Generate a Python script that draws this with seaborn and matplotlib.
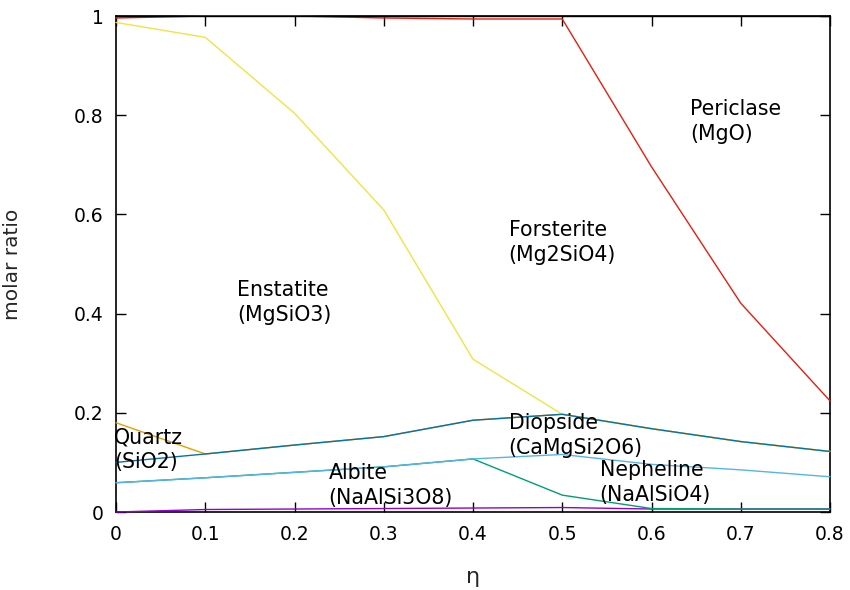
import matplotlib
matplotlib.use("Agg")
import matplotlib.pyplot as plt
import seaborn as sns
import pandas as pd

# composition parameter
eta = [0.0, 0.1, 0.2, 0.3, 0.4, 0.5, 0.6, 0.7, 0.8]

# cumulative molar ratios (each curve is the running sum of the phases below it)
trace_cum     = [0.000, 0.005, 0.006, 0.007, 0.008, 0.009, 0.006, 0.006, 0.006]
albite_cum    = [0.059, 0.069, 0.080, 0.091, 0.107, 0.034, 0.007, 0.006, 0.006]
nepheline_cum = [0.059, 0.069, 0.080, 0.091, 0.107, 0.116, 0.096, 0.085, 0.071]
quartz_cum    = [0.180, 0.117, 0.135, 0.152, 0.185, 0.197, 0.168, 0.142, 0.122]
enstatite_cum = [0.987, 0.957, 0.804, 0.609, 0.308, 0.197, 0.168, 0.142, 0.122]
diopside_cum  = [0.100, 0.117, 0.135, 0.152, 0.185, 0.197, 0.168, 0.142, 0.122]
forsterite_cum = [0.996, 1.000, 1.000, 0.996, 0.994, 0.994, 0.696, 0.421, 0.224]
periclase_cum = [1.0, 1.0, 1.0, 1.0, 1.0, 1.0, 1.0, 1.0, 1.0]

series = [
    (trace_cum, "#9400d3"),
    (albite_cum, "#009e73"),
    (nepheline_cum, "#56b4e9"),
    (quartz_cum, "#e69f00"),
    (enstatite_cum, "#f0e442"),
    (diopside_cum, "#0072b2"),
    (forsterite_cum, "#e51e10"),
    (periclase_cum, "#000000"),
]

phase_labels = ["Periclase\n(MgO)", "Forsterite\n(Mg2SiO4)", "Enstatite\n(MgSiO3)",
                "Quartz\n(SiO2)", "Diopside\n(CaMgSi2O6)", "Albite\n(NaAlSi3O8)",
                "Nepheline\n(NaAlSiO4)"]
label_x = [0.643, 0.440, 0.136, -0.002, 0.440, 0.238, 0.542]
label_y = [0.787, 0.543, 0.422, 0.125, 0.155, 0.053, 0.059]

xticks = [0, 0.1, 0.2, 0.3, 0.4, 0.5, 0.6, 0.7, 0.8]
xtick_labels = ["0", "0.1", "0.2", "0.3", "0.4", "0.5", "0.6", "0.7", "0.8"]
yticks = [0, 0.2, 0.4, 0.6, 0.8, 1.0]
ytick_labels = ["0", "0.2", "0.4", "0.6", "0.8", "1"]

sns.set_style("ticks")
plt.rcParams["font.family"] = ["DejaVu Sans"]

fig = plt.figure(figsize=(8.5, 5.9), dpi=100)
ax = fig.add_axes([116 / 850, 1 - 512 / 590, 714 / 850, 496 / 590])

for values, color in series:
    df = pd.DataFrame({"eta": eta, "ratio": values})
    sns.lineplot(data=df, x="eta", y="ratio", color=color, linewidth=1.0,
                 ax=ax, clip_on=False, zorder=3)

for text, tx, ty in zip(phase_labels, label_x, label_y):
    ax.text(tx, ty, text, ha="left", va="center", fontsize=14.8,
            linespacing=1.3, color="black", zorder=4)

ax.set_xlim(0, 0.8)
ax.set_ylim(0, 1)
ax.set_xticks(xticks)
ax.set_xticklabels(xtick_labels)
ax.set_yticks(yticks)
ax.set_yticklabels(ytick_labels)
ax.tick_params(direction="in", length=7, width=1.0, top=True, right=True,
               labelsize=13.5, pad=9, colors="black")
for sp in ax.spines.values():
    sp.set_visible(True)
    sp.set_linewidth(1.2)
    sp.set_color("black")

ax.set_xlabel("η", fontsize=16)
ax.set_ylabel("molar ratio", fontsize=14.5)
ax.xaxis.set_label_coords(0.5, -0.11)
ax.yaxis.set_label_coords(-0.132, 0.5)

fig.savefig("out.png", dpi=100)
